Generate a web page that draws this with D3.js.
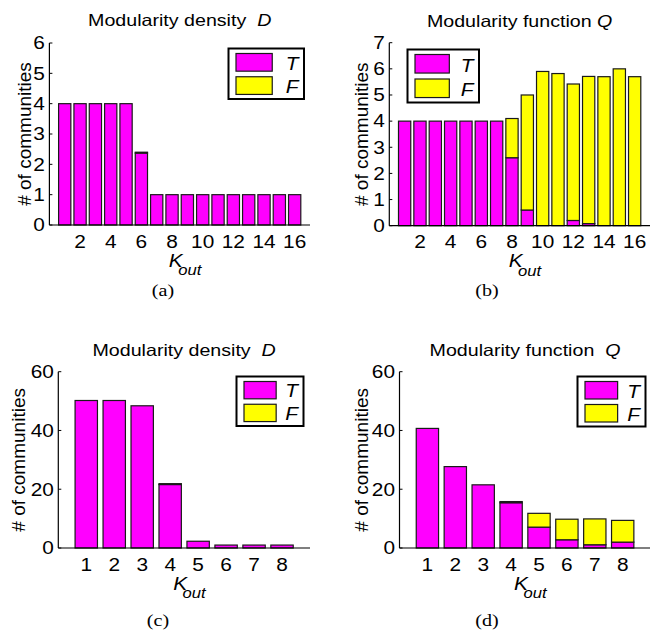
<!DOCTYPE html>
<html><head><meta charset="utf-8">
<script src="https://cdn.jsdelivr.net/npm/d3@7"></script>
<style>body{margin:0;background:#fff}svg{display:block}</style>
</head><body>
<svg id="chart" width="650" height="635"></svg>
<script>
// ---------- data ----------
const catsTop = [1,2,3,4,5,6,7,8,9,10,11,12,13,14,15,16];
const catsBottom = [1,2,3,4,5,6,7,8];
const ticksTop = [2,4,6,8,10,12,14,16];
const ticksBottom = [1,2,3,4,5,6,7,8];
const yTicksA = [0,1,2,3,4,5,6];
const yTicksB = [0,1,2,3,4,5,6,7];
const yTicksCD = [0,20,40,60];
const seriesNames = ["T","F"];

// (a) Modularity density D, small network
const aTrue  = [4,4,4,4,4,2.37,1,1,1,1,1,1,1,1,1,1];
const aFalse = [0,0,0,0,0,0.03,0,0,0,0,0,0,0,0,0,0];
// (b) Modularity function Q, small network
const bTrue  = [4,4,4,4,4,4,4,2.6,0.6,0,0,0.2,0.08,0,0,0];
const bFalse = [0,0,0,0,0,0,0,1.5,4.4,5.9,5.82,5.22,5.63,5.7,6.0,5.7];
// (c) Modularity density D, large network
const cTrue  = [50.2,50.2,48.4,21.6,2.3,1,1,1];
const cFalse = [0,0,0,0.3,0,0,0,0];
// (d) Modularity function Q, large network
const dTrue  = [40.7,27.7,21.5,15.4,7.1,2.8,1.1,2.0];
const dFalse = [0,0,0,0.4,4.7,7.0,8.8,7.4];

const titles = ["Modularity density  ", "Modularity function ", "Modularity density  ", "Modularity function  "];
const titleVars = ["D","Q","D","Q"];
const captions = ["(a)","(b)","(c)","(d)"];
const yLabel = "# of communities";

// ---------- style ----------
const colT = "#ff00ff", colF = "#ffff00", edge = "#1a1a1a";
const sans = "'Liberation Sans', Arial, Helvetica, sans-serif";
const serif = "'Liberation Serif', 'Times New Roman', serif";
const SX = 1.19;

const svg = d3.select("#chart");

function txt(g, x, y, s, o) {
  o = o || {};
  const t = g.append("text")
    .attr("transform", `translate(${x},${y}) scale(${o.sx||1},${o.sy||1})` + (o.rot ? ` rotate(${o.rot})` : ""))
    .attr("font-family", o.family || sans)
    .attr("font-size", o.size || 17)
    .attr("text-anchor", o.anchor || "middle")
    .attr("fill", "#000")
    .text(s);
  if (o.italic) t.attr("font-style", "italic");
  if (o.baseline) t.attr("dominant-baseline", o.baseline);
  return t;
}

const panels = [
  {cats: catsTop, T: aTrue, F: aFalse, xd:[0,17], xr:[49.4,310], yd:[0,6], yr:[225,43], xt: ticksTop, yt: yTicksA,
   ylabX: 24, legend:{x:228.5,y:48.5,w:75.5,h:50.5}, titleY:26, capX:163, capY:296},
  {cats: catsTop, T: bTrue, F: bFalse, xd:[0,17], xr:[389.3,650], yd:[0,7], yr:[225.7,42.7], xt: ticksTop, yt: yTicksB,
   ylabX: 361, legend:{x:407.5,y:49.5,w:71.5,h:53}, titleY:26.5, capX:487, capY:296},
  {cats: catsBottom, T: cTrue, F: cFalse, xd:[0,9], xr:[58.3,310], yd:[0,60], yr:[548,371.7], xt: ticksBottom, yt: yTicksCD,
   ylabX: 18.5, legend:{x:236.5,y:376.5,w:67,h:49.5}, titleY:356, capX:158, capY:626},
  {cats: catsBottom, T: dTrue, F: dFalse, xd:[0,9], xr:[399.5,650.6], yd:[0,60], yr:[548,371.7], xt: ticksBottom, yt: yTicksCD,
   ylabX: 361, legend:{x:577.5,y:376.5,w:68,h:50}, titleY:356, capX:487, capY:626}
];

panels.forEach((p, i) => {
  const g = svg.append("g");
  const x = d3.scaleLinear().domain(p.xd).range(p.xr);
  const y = d3.scaleLinear().domain(p.yd).range(p.yr);
  const bw = x(0.8) - x(0);
  const y0 = y(0);

  // ticks (inward) behind bars
  g.selectAll(".yt").data(p.yt).join("line")
    .attr("x1", p.xr[0]).attr("x2", p.xr[0] + 3)
    .attr("y1", d => y(d)).attr("y2", d => y(d))
    .attr("stroke", "#000").attr("stroke-width", 1);
  g.selectAll(".xt").data(p.xt).join("line")
    .attr("x1", d => x(d)).attr("x2", d => x(d))
    .attr("y1", y0).attr("y2", y0 - 3)
    .attr("stroke", "#000").attr("stroke-width", 1);

  // stacked bars
  const rows = p.cats.map((c, j) => ({c, T: p.T[j], F: p.F[j]}));
  const stack = d3.stack().keys(seriesNames)(rows);
  stack.forEach((layer, li) => {
    g.selectAll(".b" + li).data(layer).join("rect")
      .attr("x", d => x(d.data.c) - bw / 2)
      .attr("width", bw)
      .attr("y", d => y(d[1]))
      .attr("height", d => Math.max(0, y(d[0]) - y(d[1])))
      .attr("fill", li === 0 ? colT : colF)
      .attr("stroke", edge).attr("stroke-width", 1.2)
      .attr("display", d => (d[1] - d[0]) > 0 ? null : "none");
  });

  // axes lines
  g.append("line").attr("x1", p.xr[0]).attr("x2", p.xr[0]).attr("y1", y(p.yd[1])).attr("y2", y0)
    .attr("stroke", "#000").attr("stroke-width", 1.2);
  g.append("line").attr("x1", p.xr[0]).attr("x2", p.xr[1]).attr("y1", y0).attr("y2", y0)
    .attr("stroke", "#000").attr("stroke-width", 1.2);

  // tick labels
  p.yt.forEach(v => txt(g, p.xr[0] - 4.5, y(v) + 6.3, String(v), {anchor: "end", sx: SX, size: 17.5}));
  p.xt.forEach(v => txt(g, x(v), y0 + 22.5, String(v), {sx: SX, size: 17.5}));

  // x label K_out
  const cx = (p.xr[0] + p.xr[1]) / 2 + 2;
  txt(g, cx - 6, y0 + 41.5, "K", {italic: true, sx: SX, size: 17.5});
  txt(g, cx + 8, y0 + 50, "out", {italic: true, sx: SX, size: 14});

  // y label
  txt(g, p.ylabX, (p.yr[0] + p.yr[1]) / 2, yLabel, {rot: -90, size: 19, baseline: "central"});

  // title
  const tcx = (p.xr[0] + p.xr[1]) / 2;
  const tg = g.append("text")
    .attr("transform", `translate(${tcx},${p.titleY}) scale(${SX},1)`)
    .attr("font-family", sans).attr("font-size", 16.5).attr("text-anchor", "middle")
    .attr("xml:space", "preserve").style("white-space", "pre");
  tg.append("tspan").text(titles[i]);
  tg.append("tspan").attr("font-style", "italic").text(titleVars[i]);

  // legend
  const L = p.legend;
  g.append("rect").attr("x", L.x).attr("y", L.y).attr("width", L.w).attr("height", L.h)
    .attr("fill", "#fff").attr("stroke", "#000").attr("stroke-width", 2);
  const sw = L.w * 0.48, sh = L.h * 0.35;
  seriesNames.forEach((nm, k) => {
    const sy = L.y + 5 + k * (L.h / 2 - 2);
    g.append("rect").attr("x", L.x + 7.5).attr("y", sy).attr("width", sw).attr("height", sh)
      .attr("fill", k === 0 ? colT : colF).attr("stroke", edge).attr("stroke-width", 1.2);
    txt(g, L.x + L.w - 12, sy + sh - 1.5, nm, {italic: true, sx: SX, size: 17.5});
  });

  // caption
  txt(g, p.capX, p.capY, captions[i], {family: serif, size: 17.5, sx: 1.15});
});
</script>
</body></html>
